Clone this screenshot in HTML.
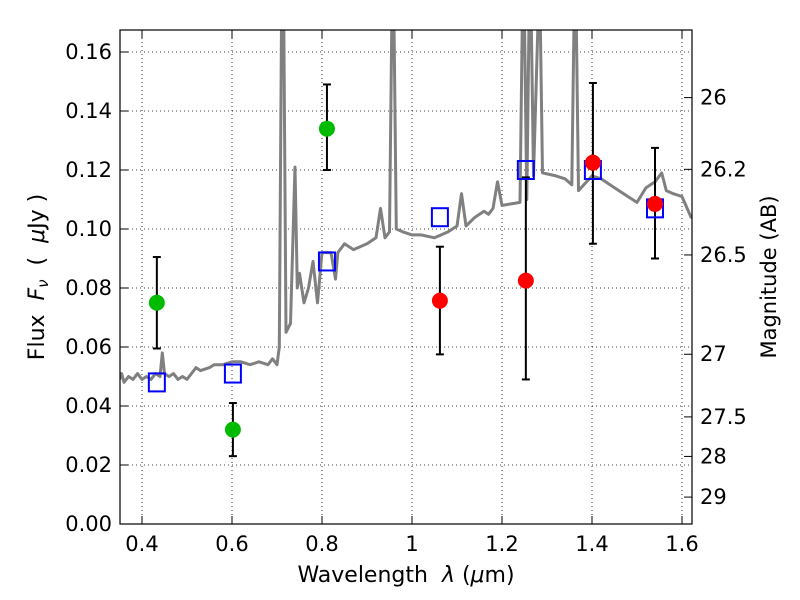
<!DOCTYPE html>
<html><head><meta charset="utf-8"><style>
body{margin:0;background:#fff;}
svg{display:block;font-family:"DejaVu Sans","Liberation Sans",sans-serif;}
</style></head><body>
<svg id="chart" width="800" height="600">
<defs><clipPath id="clip"><rect x="120" y="30" width="572" height="494"/></clipPath></defs>
<rect x="0" y="0" width="800" height="600" fill="#fff"/>
<g id="grid"></g>
<g id="plot" clip-path="url(#clip)"></g>
<g id="marks"></g>
<rect x="120" y="30" width="572" height="494" fill="none" stroke="#000" stroke-width="1.2"/>
<g id="axes"></g>
<text x="406" y="582" font-size="22" text-anchor="middle">Wavelength&#160;&#160;<tspan font-style="italic">λ</tspan> (<tspan font-style="italic">μ</tspan>m)</text>
<text transform="translate(44,277) rotate(-90)" font-size="22" text-anchor="middle">Flux&#160;&#160;<tspan font-style="italic">F</tspan><tspan font-style="italic" font-size="15" dy="4">ν</tspan><tspan dy="-4">&#160;&#160;(&#160;&#160;</tspan><tspan font-style="italic">μ</tspan>Jy )</text>
<text transform="translate(776,277) rotate(-90)" font-size="21" text-anchor="middle">Magnitude (AB)</text>
</svg>
<script>
const xTicks=[0.4,0.6,0.8,1,1.2,1.4,1.6];
const xTickLabels=["0.4","0.6","0.8","1","1.2","1.4","1.6"];
const yTicks=[0,0.02,0.04,0.06,0.08,0.1,0.12,0.14,0.16];
const yTickLabels=["0.00","0.02","0.04","0.06","0.08","0.10","0.12","0.14","0.16"];
const magTicks=[26,26.2,26.5,27,27.5,28,29];
const magTickLabels=["26","26.2","26.5","27","27.5","28","29"];
const specWave=[0.35,0.355,0.36,0.37,0.38,0.39,0.40,0.41,0.42,0.43,0.44,0.445,0.45,0.46,0.47,0.48,0.49,0.50,0.52,0.53,0.55,0.56,0.58,0.60,0.62,0.64,0.66,0.68,0.69,0.70,0.705,0.71,0.715,0.72,0.73,0.74,0.745,0.75,0.76,0.77,0.78,0.79,0.80,0.82,0.83,0.835,0.85,0.87,0.90,0.92,0.93,0.94,0.95,0.955,0.96,0.965,0.98,1.0,1.02,1.05,1.08,1.10,1.11,1.12,1.14,1.16,1.17,1.18,1.19,1.20,1.24,1.245,1.25,1.255,1.26,1.265,1.27,1.28,1.285,1.29,1.32,1.34,1.355,1.36,1.365,1.37,1.40,1.42,1.45,1.48,1.50,1.52,1.54,1.555,1.565,1.58,1.60,1.62,1.63];
const specFlux=[0.049,0.051,0.048,0.050,0.049,0.051,0.049,0.050,0.049,0.051,0.050,0.058,0.051,0.050,0.051,0.049,0.050,0.049,0.053,0.052,0.053,0.054,0.054,0.055,0.055,0.054,0.055,0.054,0.056,0.054,0.060,0.17,0.17,0.065,0.068,0.121,0.080,0.085,0.075,0.080,0.089,0.075,0.092,0.092,0.083,0.092,0.095,0.093,0.095,0.097,0.107,0.097,0.099,0.17,0.17,0.100,0.099,0.098,0.098,0.097,0.099,0.101,0.112,0.101,0.104,0.106,0.105,0.107,0.116,0.108,0.109,0.17,0.17,0.110,0.17,0.17,0.118,0.17,0.17,0.119,0.118,0.117,0.115,0.17,0.17,0.113,0.118,0.117,0.114,0.111,0.109,0.114,0.116,0.119,0.113,0.112,0.111,0.104,0.104];
const greenWave=[0.433,0.602,0.811];
const greenFlux=[0.075,0.032,0.134];
const greenLo=[0.0595,0.023,0.120];
const greenHi=[0.0905,0.041,0.149];
const redWave=[1.062,1.253,1.402,1.54];
const redFlux=[0.0757,0.0825,0.1225,0.1085];
const redLo=[0.0575,0.049,0.095,0.090];
const redHi=[0.094,0.1175,0.1495,0.1275];
const modelWave=[0.433,0.602,0.811,1.062,1.253,1.402,1.54];
const modelFlux=[0.048,0.051,0.089,0.104,0.120,0.120,0.107];

const NS="http://www.w3.org/2000/svg";
const X=w=>142+(w-0.4)*450;
const Y=f=>524-f*2950;
const magToFlux=m=>Math.pow(10,(23.9-m)/2.5);
function mk(tag,attrs,parent){const e=document.createElementNS(NS,tag);for(const k in attrs)e.setAttribute(k,attrs[k]);document.getElementById(parent).appendChild(e);return e;}

xTicks.forEach((t,i)=>{
  const x=X(t);
  let g=mk('line',{x1:x,x2:x,y1:30,y2:524,stroke:'#000','stroke-width':0.8,'stroke-dasharray':'1,3'},'grid');
  
  
  mk('line',{x1:x,x2:x,y1:524,y2:516,stroke:'#000'},'axes');
  mk('line',{x1:x,x2:x,y1:30,y2:38,stroke:'#000'},'axes');
  let l=mk('text',{x:x,y:551,'font-size':21,'text-anchor':'middle'},'axes');
  l.textContent=xTickLabels[i];
  
  
});
yTicks.forEach((t,i)=>{
  const y=Y(t);
  let g=mk('line',{x1:120,x2:692,y1:y,y2:y,stroke:'#000','stroke-width':0.8,'stroke-dasharray':'1,3'},'grid');
  
  
  mk('line',{x1:120,x2:128,y1:y,y2:y,stroke:'#000'},'axes');
  let l=mk('text',{x:112,y:y+7,'font-size':21,'text-anchor':'end'},'axes');
  l.textContent=yTickLabels[i];
  
  
});
magTicks.forEach((m,i)=>{
  const y=Y(magToFlux(m));
  mk('line',{x1:684,x2:692,y1:y,y2:y,stroke:'#000'},'axes');
  let l=mk('text',{x:700,y:y+7,'font-size':21},'axes');
  l.textContent=magTickLabels[i];
  
  
});
const sp=mk('polyline',{points:specWave.map((w,i)=>X(w).toFixed(1)+','+Y(specFlux[i]).toFixed(1)).join(' '),fill:'none',stroke:'#808080','stroke-width':3,'stroke-linejoin':'round'},'plot');



function errbar(w,lo,hi){
  const x=X(w);
  mk('line',{x1:x,x2:x,y1:Y(lo),y2:Y(hi),stroke:'#000','stroke-width':2},'marks');
  mk('line',{x1:x-4,x2:x+4,y1:Y(lo),y2:Y(lo),stroke:'#000','stroke-width':2},'marks');
  mk('line',{x1:x-4,x2:x+4,y1:Y(hi),y2:Y(hi),stroke:'#000','stroke-width':2},'marks');
}
greenWave.forEach((w,i)=>errbar(w,greenLo[i],greenHi[i]));
redWave.forEach((w,i)=>errbar(w,redLo[i],redHi[i]));
modelWave.forEach((w,i)=>{
  const r=mk('rect',{x:X(w)-8,y:Y(modelFlux[i])-9,width:16,height:18,fill:'none',stroke:'#0000ff','stroke-width':2},'marks');
  
  
});
greenWave.forEach((w,i)=>{
  const c=mk('circle',{cx:X(w),cy:Y(greenFlux[i]),r:8,fill:'#00bb00'},'marks');
  
  
});
redWave.forEach((w,i)=>{
  const c=mk('circle',{cx:X(w),cy:Y(redFlux[i]),r:8,fill:'#ff0000'},'marks');
  
  
});
</script>
</body></html>
